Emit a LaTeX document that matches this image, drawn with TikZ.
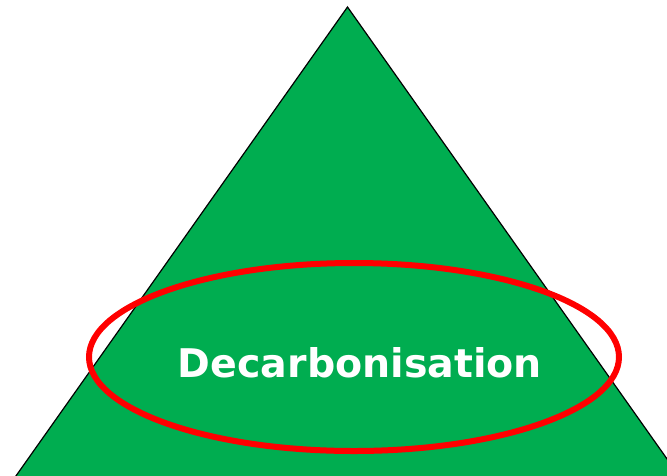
\documentclass[tikz,border=0pt]{standalone}
\usepackage{fontspec}
\setmainfont{DejaVu Sans}
\usetikzlibrary{positioning}
\definecolor{pyramidgreen}{RGB}{0,173,80}
\definecolor{ringred}{RGB}{255,0,0}

\begin{document}
\begin{tikzpicture}[
        x=1pt, y=-1pt,
        pyramid/.style={draw=black, fill=pyramidgreen, line width=1.2pt},
        ring/.style={draw=ringred, line width=6pt},
        label/.style={text=white, font=\fontsize{39.5}{45}\selectfont\bfseries}
    ]
        \useasboundingbox (0,0) rectangle (667,475);
        \begin{scope}
            \clip (0,0) rectangle (667,475);
            % triangle runs past the lower edge
            \coordinate (apex) at (347.5,7);
            \coordinate (baseleft) at (6,490);
            \coordinate (baseright) at (689,490);
            \draw[pyramid] (apex) -- (baseleft) -- (baseright) -- cycle;
        \end{scope}
        \coordinate (centre) at (354,357);
        \draw[ring] (centre) ellipse [x radius=265, y radius=94];
        \node[label] (title) at (360,363) {Decarbonisation};
\end{tikzpicture}
\end{document}
